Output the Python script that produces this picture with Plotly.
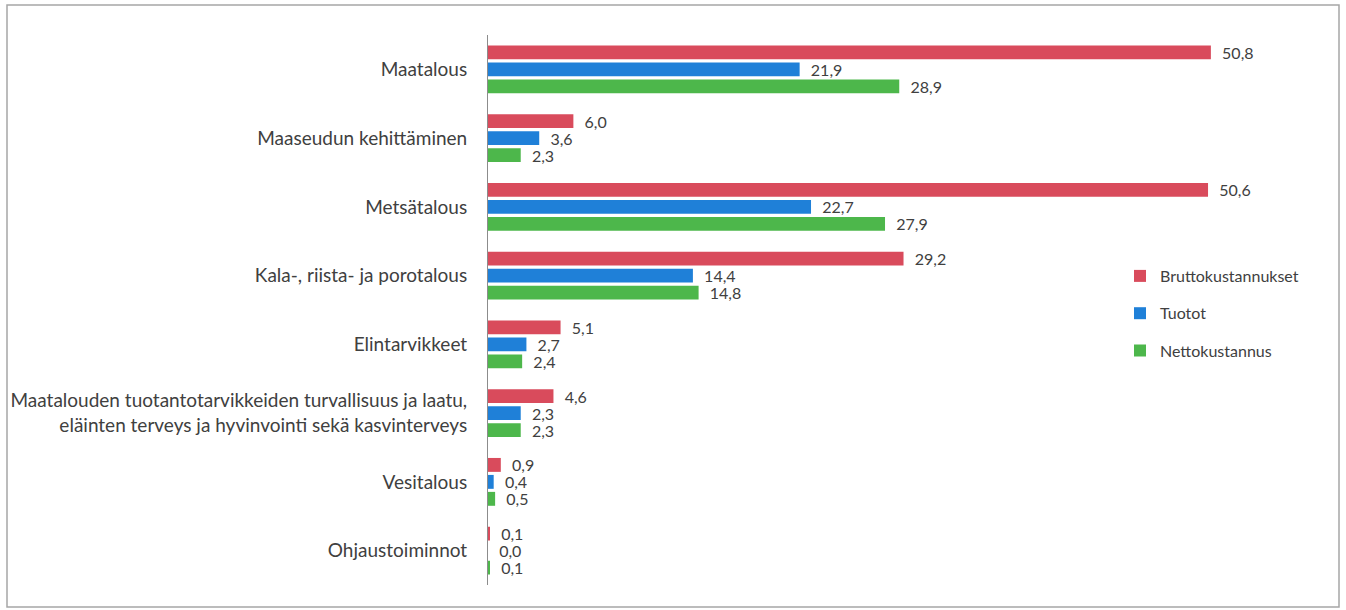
import plotly.graph_objects as go

categories = [
    "Maatalous",
    "Maaseudun kehittäminen",
    "Metsätalous",
    "Kala-, riista- ja porotalous",
    "Elintarvikkeet",
    "Maatalouden tuotantotarvikkeiden turvallisuus ja laatu,<br>eläinten terveys ja hyvinvointi sekä kasvinterveys",
    "Vesitalous",
    "Ohjaustoiminnot",
]
brutto = [50.8, 6.0, 50.6, 29.2, 5.1, 4.6, 0.9, 0.1]
tuotot = [21.9, 3.6, 22.7, 14.4, 2.7, 2.3, 0.4, 0.0]
netto = [28.9, 2.3, 27.9, 14.8, 2.4, 2.3, 0.5, 0.1]

series = [
    ("Bruttokustannukset", brutto, "#D94B5C"),
    ("Tuotot", tuotot, "#1F80D8"),
    ("Nettokustannus", netto, "#4DB74B"),
]

def fmt(v):
    return "\u00a0\u00a0" + f"{v:.1f}".replace(".", ",")

FONT = "Lato, sans-serif"
fig = go.Figure()
for i, (name, vals, col) in enumerate(series):
    fig.add_trace(go.Bar(
        y=categories, x=vals, name=name, orientation="h",
        marker=dict(color=col, line=dict(width=0)),
        text=[fmt(v) for v in vals], textposition="outside",
        constraintext="none",
        textfont=dict(family=FONT, size=16, color="#404040"),
        cliponaxis=False, legendgroup=f"g{i}",
    ))

W, H = 1346, 610
L, R, T, B = 488, 8, 35, 25
pw = W - L - R
ph = H - T - B

def px(x):
    return (x - L) / pw

def py(y):
    return (H - B - y) / ph

fig.update_layout(
    width=W, height=H,
    margin=dict(l=L, r=R, t=T, b=B),
    paper_bgcolor="white", plot_bgcolor="white",
    barmode="group", bargap=0.26, bargroupgap=0.18,
    separators=", ",
    font=dict(family=FONT, size=18, color="#404040"),
    showlegend=True,
    legend=dict(
        x=px(1120), y=py(259), xanchor="left", yanchor="top",
        traceorder="grouped", tracegroupgap=13.5,
        font=dict(family=FONT, size=16, color="#404040"),
        itemwidth=30, bgcolor="rgba(0,0,0,0)",
    ),
    xaxis=dict(range=[0, pw / 14.23], visible=False, showgrid=False, zeroline=False),
    yaxis=dict(
        autorange="reversed", showline=True, linecolor="#8c8c8c", linewidth=1,
        showgrid=False, ticks="", ticklabelstandoff=16,
        tickfont=dict(family=FONT, size=19, color="#404040"),
    ),
    shapes=[dict(
        type="rect", xref="paper", yref="paper",
        x0=px(7), x1=px(1339), y0=py(607), y1=py(5),
        line=dict(color="#a6a6a6", width=1.5), fillcolor="rgba(0,0,0,0)",
        layer="below",
    )],
)

fig.write_html("out.html", config={"displayModeBar": False},
               post_script="document.body.style.margin='0px';")
